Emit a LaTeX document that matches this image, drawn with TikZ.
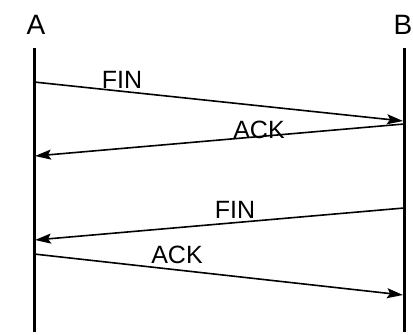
\documentclass[tikz,border=0pt]{standalone}
\usepackage{fontspec}
\setmainfont{Liberation Sans}
\usetikzlibrary{arrows.meta}

\begin{document}
\begin{tikzpicture}[
    x=1pt, y=-1pt,
    >={Stealth[length=16pt, width=10pt, inset=3pt]},
    host/.style={font=\fontsize{28}{32}\selectfont, inner sep=0pt, anchor=base},
    lifeline/.style={line width=3pt},
    msg/.style={->, line width=1.6pt},
    lbl/.style={font=\fontsize{25}{29}\selectfont, inner sep=0pt, anchor=base}
  ]
  \useasboundingbox (0,0) rectangle (413,335);

  % --- hosts and their lifelines ---
  \node[host] (A) at (36,34) {A};
  \node[host] (B) at (403,34) {B};
  \coordinate (Atop) at (34,48);  \coordinate (Abot) at (34,332);
  \coordinate (Btop) at (404,48); \coordinate (Bbot) at (404,332);
  \draw[lifeline] (Atop) -- (Abot);
  \draw[lifeline] (Btop) -- (Bbot);

  % message end points on the lifelines
  \coordinate (a1) at (34,82);   \coordinate (b1) at (403,121);
  \coordinate (b2) at (404,124); \coordinate (a2) at (35,156);
  \coordinate (b3) at (404,208); \coordinate (a3) at (35,240);
  \coordinate (a4) at (34,254);  \coordinate (b4) at (403,295);

  % --- connection teardown ---
  \draw[msg] (a1) -- (b1);
  \draw[msg] (b2) -- (a2);
  \draw[msg] (b3) -- (a3);
  \draw[msg] (a4) -- (b4);

  \node[lbl] (fin1) at (122,88)  {FIN};
  \node[lbl] (ack1) at (259,138) {ACK};
  \node[lbl] (fin2) at (235,218) {FIN};
  \node[lbl] (ack2) at (177,263) {ACK};

\end{tikzpicture}
\end{document}
